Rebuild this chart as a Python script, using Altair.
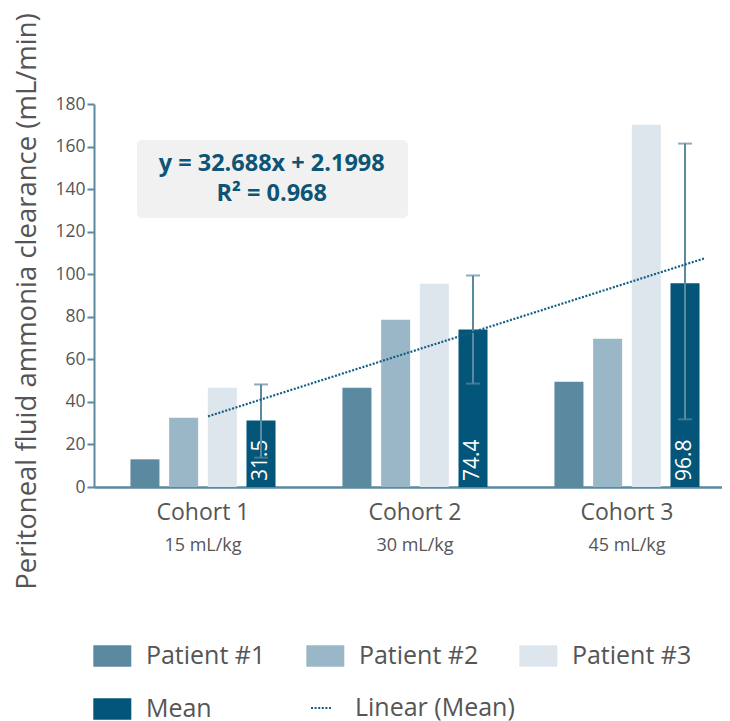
import altair as alt
import pandas as pd

# ---------------- data ----------------
cohorts = ["Cohort 1", "Cohort 2", "Cohort 3"]
doses = ["15 mL/kg", "30 mL/kg", "45 mL/kg"]
series = ["Patient #1", "Patient #2", "Patient #3", "Mean"]
patient1 = [13.0, 46.7, 49.5]
patient2 = [32.6, 78.6, 69.7]
patient3 = [46.7, 95.5, 170.3]
mean = [31.3, 74.0, 95.8]
mean_labels = ["31.5", "74.4", "96.8"]
err_low = [13.8, 48.6, 31.8]
err_high = [48.2, 99.4, 161.4]
trend_name = ["Linear (Mean)"]
trend_x = [1.024, 3.37]
trend_y = [33.2, 107.6]
equation = ["y = 32.688x + 2.1998", "R² = 0.968"]
colors = ["#5b89a0", "#9ab7c8", "#dee6ed", "#03557a"]
y_ticks = [0, 20, 40, 60, 80, 100, 120, 140, 160, 180]

# ---------------- tables ----------------
bar_rows = []
for name, vals in zip(series, [patient1, patient2, patient3, mean]):
    for c, v in zip(cohorts, vals):
        bar_rows.append({"cohort": c, "series": name, "value": v})
bar_df = pd.DataFrame(bar_rows)

mean_df = pd.DataFrame({"cohort": cohorts, "series": ["Mean"] * 3,
                        "value": err_low, "hi": err_high, "label": mean_labels,
                        "dose": doses})
cap_df = pd.DataFrame({"cohort": cohorts * 2, "series": ["Mean"] * 6,
                       "value": err_low + err_high})
trend_df = pd.DataFrame({"t": trend_x, "value": trend_y,
                         "name": trend_name * len(trend_x)})
eq_df = pd.DataFrame({"text": equation, "line": [0, 1]})
box_df = pd.DataFrame({"text": [equation[0]]})

# ---------------- layout ----------------
W, H = 628, 383
STEP, P_INNER, LEFT = 212.0, 0.27, 31.6
P_OUTER = (W / STEP - 3 + P_INNER) / 2
ALIGN = LEFT / (W - STEP * (3 - P_INNER))
first_center = LEFT + STEP * (1 - P_INNER) / 2
t_lo = 1 - first_center / STEP
t_hi = t_lo + W / STEP

AX = "#5b89a0"
GREY = "#555555"
FONT = "Open Sans"

x_scale = alt.Scale(domain=cohorts, paddingInner=P_INNER,
                    paddingOuter=P_OUTER, align=ALIGN)
x_enc = alt.X("cohort:N", scale=x_scale, sort=cohorts,
              axis=alt.Axis(title=None, labelAngle=0, labelFontSize=23,
                            labelColor=GREY, labelFont=FONT, ticks=False,
                            domainColor=AX, domainWidth=2.5, labelPadding=14))
xo_enc = alt.XOffset("series:N", sort=series,
                     scale=alt.Scale(domain=series, paddingInner=0.25,
                                     paddingOuter=0.125))
y_scale = alt.Scale(domain=[0, 180], nice=False)
y_enc = alt.Y("value:Q", scale=y_scale,
              axis=alt.Axis(title="Peritoneal fluid ammonia clearance (mL/min)",
                            values=y_ticks, grid=False, tickSize=7,
                            tickColor=AX, tickWidth=2, domainColor=AX,
                            domainWidth=2, labelFontSize=17.5, labelFont=FONT,
                            labelColor=GREY, labelPadding=2, titleFont=FONT,
                            titleFontSize=27.5, titleFontWeight="normal",
                            titleColor=GREY, titlePadding=13, titleY=197))

bars = alt.Chart(bar_df).mark_bar().encode(
    x=x_enc, xOffset=xo_enc, y=y_enc,
    color=alt.Color("series:N", sort=series,
                    scale=alt.Scale(domain=series, range=colors),
                    legend=alt.Legend(title=None, orient="none", legendX=-0.7,
                                      legendY=533, columns=3,
                                      direction="horizontal",
                                      symbolType="M-1,-0.56H1V0.56H-1Z",
                                      symbolSize=1444, symbolStrokeWidth=0,
                                      labelFontSize=25, labelFont=FONT,
                                      labelColor=GREY, labelOffset=14.6,
                                      columnPadding=41, rowPadding=21,
                                      labelLimit=300)),
)

labels = alt.Chart(mean_df).mark_text(
    angle=270, align="left", baseline="middle", dx=6, fontSize=21,
    color="white", font=FONT,
).encode(x=x_enc, xOffset=xo_enc, y=alt.value(H), text="label:N")

rules = alt.Chart(mean_df).mark_rule(color=AX, strokeWidth=2).encode(
    x=x_enc, xOffset=xo_enc, y=y_enc, y2="hi:Q")

caps = alt.Chart(cap_df).mark_tick(color=AX, size=14, thickness=2,
                                   orient="horizontal").encode(
    x=x_enc, xOffset=xo_enc, y=y_enc)

dose_text = alt.Chart(mean_df).mark_text(
    fontSize=18, color=GREY, font=FONT, baseline="middle",
).encode(x=x_enc, y=alt.value(441.5), text="dose:N")

inner = alt.layer(bars, labels, rules, caps, dose_text)

trend = alt.Chart(trend_df).mark_line(color="#135f82", strokeWidth=2.2).encode(
    x=alt.X("t:Q", scale=alt.Scale(domain=[t_lo, t_hi], nice=False, zero=False),
            axis=None),
    y=y_enc,
    strokeDash=alt.StrokeDash("name:N",
                              scale=alt.Scale(domain=trend_name,
                                              range=[[2, 1.6]]),
                              legend=alt.Legend(title=None, orient="none",
                                                legendX=215, legendY=591.5,
                                                symbolType="stroke",
                                                symbolSize=441,
                                                symbolStrokeWidth=2.2,
                                                symbolStrokeColor="#135f82",
                                                labelFontSize=25,
                                                labelFont=FONT,
                                                labelColor=GREY,
                                                labelOffset=21,
                                                labelLimit=300)),
)

box = alt.Chart(box_df).mark_rect(color="#f1f1f1", cornerRadius=5).encode(
    x=alt.value(43), x2=alt.value(314), y=alt.value(36), y2=alt.value(114))

eq1 = alt.Chart(eq_df).transform_filter("datum.line == 0").mark_text(
    font=FONT, fontWeight="bold", fontSize=23.5,
    color="#0d5475", baseline="middle").encode(
    x=alt.value(177.7), y=alt.value(60), text="text:N")
eq2 = alt.Chart(eq_df).transform_filter("datum.line == 1").mark_text(
    font=FONT, fontWeight="bold", fontSize=23.5,
    color="#0d5475", baseline="middle").encode(
    x=alt.value(177.7), y=alt.value(89.5), text="text:N")

chart = alt.layer(box, eq1, eq2, inner, trend).resolve_scale(
    x="independent"
).properties(
    width=W, height=H,
    autosize=alt.AutoSizeParams(type="none"),
    padding={"left": 86, "top": 96, "right": 0, "bottom": 234},
    background="white",
).configure_view(stroke=None)

chart.save("out.html", embed_options={"renderer": "svg", "actions": False})
